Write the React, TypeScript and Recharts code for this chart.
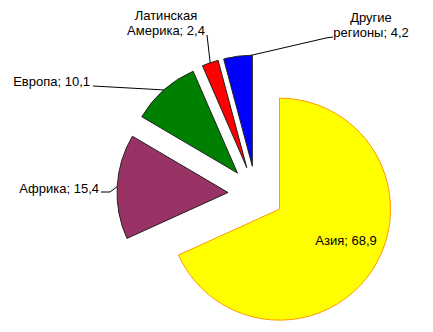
import React from "react";
import { PieChart, Pie, Cell } from "recharts";

const regions = ["Азия", "Африка", "Европа", "Латинская Америка", "Другие регионы"];
const shares = [68.9, 15.4, 10.1, 2.4, 4.2];
const shareLabels = ["68,9", "15,4", "10,1", "2,4", "4,2"];

const FILLS = ["#FFFF00", "#993366", "#008000", "#FF0000", "#0000FF"];
const STROKES = ["#FF9900", "#222222", "#222222", "#222222", "#222222"];

const CX = 256;
const CY = 194;
const R = 111;
const EXPLODE = 28;
const RAD = Math.PI / 180;

// text lines + where the leader line starts (in chart px); null = inside slice
const LABELS = [
  { x: 346, y: 245, anchor: "middle", lines: ["Азия; 68,9"], leader: null, at: 0.5 },
  { x: 99, y: 193, anchor: "end", lines: ["Африка; 15,4"], leader: [[101, 192], [110, 192]], at: 0.5 },
  { x: 90, y: 86, anchor: "end", lines: ["Европа; 10,1"], leader: [[93, 86]], at: 0.5 },
  { x: 166, y: 20, anchor: "middle", lines: ["Латинская", "Америка; 2,4"], leader: [[207, 35]], at: 0.5 },
  { x: 371, y: 22, anchor: "middle", lines: ["Другие", "регионы; 4,2"], leader: [[333, 37], [326, 38]], at: 0.97 },
];

const data = regions.map((name, i) => ({ name, value: shares[i], text: shareLabels[i] }));

const total = shares.reduce((a, b) => a + b, 0);
// clockwise angle from 12 o'clock for each slice
const bounds = shares.map((v, i) => {
  const before = shares.slice(0, i).reduce((a, b) => a + b, 0);
  return [(before / total) * 360, ((before + v) / total) * 360];
});
const centers = bounds.map(([a, b]) => {
  const mid = ((a + b) / 2) * RAD;
  return { x: CX + EXPLODE * Math.sin(mid), y: CY - EXPLODE * Math.cos(mid) };
});

function makeLabel(k: number) {
  return (props: any) => {
    if (props.index !== k) return null;
    const lab = LABELS[k];
    const [a, b] = bounds[k];
    const ang = (a + (b - a) * lab.at) * RAD;
    const ex = props.cx + props.outerRadius * Math.sin(ang);
    const ey = props.cy - props.outerRadius * Math.cos(ang);
    const pts = lab.leader ? [...lab.leader, [ex, ey]] : null;
    return (
      <g key={`lab-${k}`}>
        {pts && (
          <polyline
            points={pts.map((p) => p.join(",")).join(" ")}
            fill="none"
            stroke="#000"
            strokeWidth={1}
          />
        )}
        <text
          x={lab.x}
          y={lab.y}
          textAnchor={lab.anchor as any}
          fontFamily="'Liberation Sans', Arial, sans-serif"
          fontSize={13}
          fill="#000"
        >
          {lab.lines.map((ln, j) => (
            <tspan key={j} x={lab.x} dy={j === 0 ? 0 : 15}>
              {ln}
            </tspan>
          ))}
        </text>
      </g>
    );
  };
}

export default function App() {
  return (
    <div style={{ margin: -8, width: 433, height: 332, background: "#fff" }}>
      <PieChart width={433} height={332} margin={{ top: 0, right: 0, bottom: 0, left: 0 }}>
        {data.map((_, k) => (
          <Pie
            key={k}
            data={data}
            dataKey="value"
            nameKey="name"
            cx={centers[k].x}
            cy={centers[k].y}
            outerRadius={R}
            startAngle={90}
            endAngle={-270}
            label={makeLabel(k)}
            labelLine={false}
            isAnimationActive={false}
          >
            {data.map((_, i) => (
              <Cell
                key={i}
                fill={i === k ? FILLS[i] : "none"}
                stroke={i === k ? STROKES[i] : "none"}
                strokeWidth={1}
              />
            ))}
          </Pie>
        ))}
      </PieChart>
    </div>
  );
}
